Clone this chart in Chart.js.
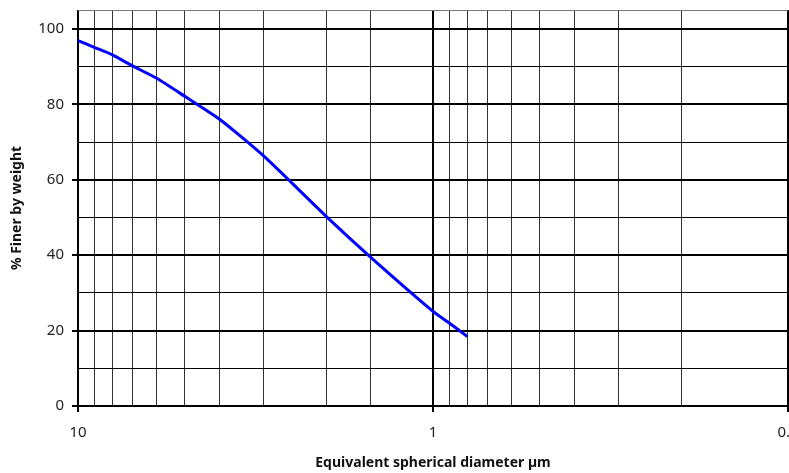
<!DOCTYPE html>
<html>
<head>
<meta charset="utf-8">
<script src="https://cdn.jsdelivr.net/npm/chart.js@4"></script>
<style>
  html, body { margin: 0; padding: 0; background: #fff; overflow: hidden; }
  #wrap { position: relative; width: 789px; height: 473px; }
</style>
</head>
<body>
<div id="wrap"><canvas id="psd"></canvas></div>
<script>
// particle size distribution
const diameters = [10, 9, 8, 7, 6, 5, 4, 3, 2, 1.5, 1, 0.9, 0.8];
const percentFiner = [96.9, 95.1, 93.1, 90.1, 86.9, 82.1, 76.1, 66.3, 50.3, 39.5, 25.1, 22.0, 18.4];
const xLabels = [10, 1, 0.1];
const yLabels = [0, 20, 40, 60, 80, 100];

const FONT = '"Noto Sans", "Open Sans", sans-serif';

const isDecade = v => Math.abs(Math.log10(v) - Math.round(Math.log10(v))) < 1e-6;
const isMajorY = v => yLabels.includes(v);

const ctx = document.getElementById('psd').getContext('2d');
new Chart(ctx, {
  type: 'line',
  data: {
    datasets: [{
      data: diameters.map((d, i) => ({ x: d, y: percentFiner[i] })),
      borderColor: '#0000ff',
      borderWidth: 3,
      pointRadius: 0,
      tension: 0.2,
      fill: false
    }]
  },
  options: {
    responsive: true,
    maintainAspectRatio: false,
    animation: false,
    layout: { padding: { top: 10 } },
    plugins: { legend: { display: false }, tooltip: { enabled: false } },
    scales: {
      x: {
        type: 'logarithmic',
        reverse: true,
        min: 0.1,
        max: 10,
        border: { display: false },
        afterFit: s => {
          s.height = 67;
          s.paddingLeft = 0;
          s.paddingRight = 1;
        },
        grid: {
          color: c => isDecade(c.tick.value) ? '#000' : '#333',
          lineWidth: c => isDecade(c.tick.value) ? 2 : 1,
          tickColor: c => isDecade(c.tick.value) ? '#000' : 'rgba(0,0,0,0)',
          tickLength: 6
        },
        ticks: {
          autoSkip: false,
          maxRotation: 0,
          padding: 12,
          color: '#222',
          font: { family: FONT, size: 15 },
          callback: v => xLabels.find(l => Math.abs(l - v) < 1e-9) !== undefined ? String(v) : ''
        },
        title: {
          display: true,
          text: 'Equivalent spherical diameter µm',
          color: '#111',
          font: { family: FONT, size: 14, weight: 'bold' },
          padding: { top: 0, bottom: 2 }
        }
      },
      y: {
        min: 0,
        max: 105,
        border: { display: false },
        afterFit: s => {
          s.width = 78;
          s.paddingTop = 0;
          s.paddingBottom = 0;
        },
        grid: {
          color: c => c.tick.value > 100 ? '#777' : '#000',
          lineWidth: c => isMajorY(c.tick.value) ? 2 : 1,
          tickColor: c => isMajorY(c.tick.value) ? '#000' : 'rgba(0,0,0,0)',
          tickLength: 6
        },
        ticks: {
          stepSize: 10,
          padding: 8,
          color: '#222',
          font: { family: FONT, size: 15 },
          callback: v => isMajorY(v) ? String(v) : ''
        },
        title: {
          display: true,
          text: '% Finer by weight',
          color: '#111',
          font: { family: FONT, size: 14, weight: 'bold' },
          padding: { top: 9, bottom: 0 }
        }
      }
    }
  }
});
</script>
</body>
</html>
